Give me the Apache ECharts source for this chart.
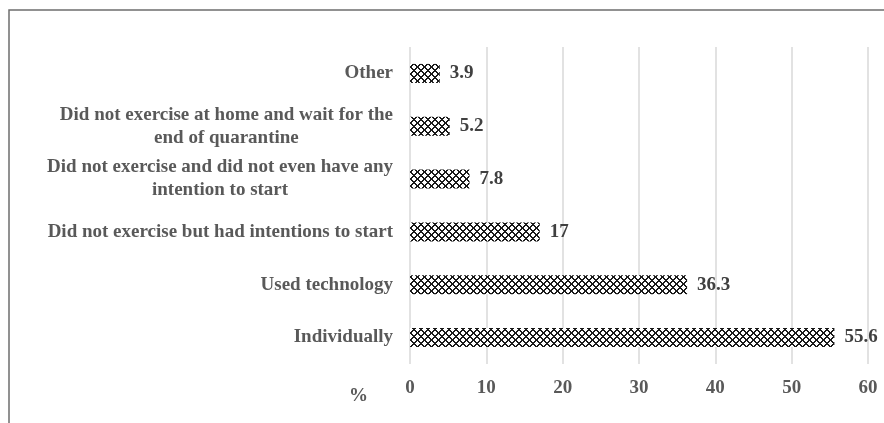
<!DOCTYPE html>
<html>
<head>
<meta charset="utf-8">
<script src="https://cdn.jsdelivr.net/npm/echarts@6/dist/echarts.min.js"></script>
<style>
  html, body { margin: 0; padding: 0; background: #fff; }
  #chart { width: 884px; height: 423px; }
</style>
</head>
<body>
<div id="chart"></div>
<script>
// Ways of exercising during quarantine (bottom to top)
const categories = [
  'Individually',
  'Used technology',
  'Did not exercise but had intentions to start',
  'Did not exercise and did not even have any\nintention to start',
  'Did not exercise at home and wait for the\nend of quarantine',
  'Other'
];
const percentages = [55.6, 36.3, 17, 7.8, 5.2, 3.9];
const axisTicks = [0, 10, 20, 30, 40, 50, 60];
const unitLabel = '%';

const FONT = '"Liberation Serif", "Times New Roman", serif';
const SIZE = 19;

// Cross-hatch fill tile for the bars
function makeHatch() {
  const c = document.createElement('canvas');
  const n = 7;
  c.width = n; c.height = n;
  const ctx = c.getContext('2d');
  ctx.fillStyle = '#ffffff';
  ctx.fillRect(0, 0, n, n);
  ctx.fillStyle = '#1a1a1a';
  for (let y = 0; y < n; y++) {
    for (let x = 0; x < n; x++) {
      const a = (x + y) % n, b = (x - y + n) % n;
      if (a <= 1 || b <= 1) ctx.fillRect(x, y, 1, 1);
    }
  }
  return c;
}
const hatch = makeHatch();

const chart = echarts.init(document.getElementById('chart'), null, { renderer: 'canvas' });

chart.setOption({
  animation: false,
  backgroundColor: '#ffffff',
  graphic: [{
    type: 'rect',
    shape: { x: 9, y: 10, width: 900, height: 440 },
    style: { fill: 'none', stroke: '#6e6e6e', lineWidth: 1.5 },
    silent: true
  }, {
    type: 'text',
    x: 368, y: 396,
    style: {
      text: unitLabel, align: 'right', verticalAlign: 'middle',
      font: 'bold ' + SIZE + 'px ' + FONT, fill: '#595959'
    },
    silent: true
  }],
  grid: { left: 410, right: 16, top: 47, bottom: 59, containLabel: false },
  xAxis: {
    type: 'value',
    min: axisTicks[0],
    max: axisTicks[axisTicks.length - 1],
    interval: axisTicks[1] - axisTicks[0],
    axisLine: { show: false },
    axisTick: { show: false },
    axisLabel: {
      margin: 15, fontFamily: FONT, fontWeight: 'bold', fontSize: SIZE, color: '#595959'
    },
    splitLine: { show: true, lineStyle: { color: '#d9d9d9', width: 1.5 } }
  },
  yAxis: {
    type: 'category',
    data: categories,
    axisLine: { show: false },
    axisTick: { show: false },
    axisLabel: {
      margin: 17,
      fontFamily: FONT, fontWeight: 'bold', fontSize: SIZE, color: '#595959',
      lineHeight: 23,
      formatter: function (v) {
        return v.split('\n').map(function (s) { return '{c|' + s + '}'; }).join('\n');
      },
      rich: {
        c: {
          align: 'center',
          fontFamily: FONT, fontWeight: 'bold', fontSize: SIZE, color: '#595959',
          lineHeight: 23
        }
      }
    }
  },
  series: [{
    type: 'bar',
    data: percentages,
    barWidth: '36%',
    itemStyle: { color: { image: hatch, repeat: 'repeat' } },
    label: {
      show: true,
      position: 'right',
      distance: 10,
      fontFamily: FONT, fontWeight: 'bold', fontSize: SIZE, color: '#404040'
    }
  }]
});
</script>
</body>
</html>
